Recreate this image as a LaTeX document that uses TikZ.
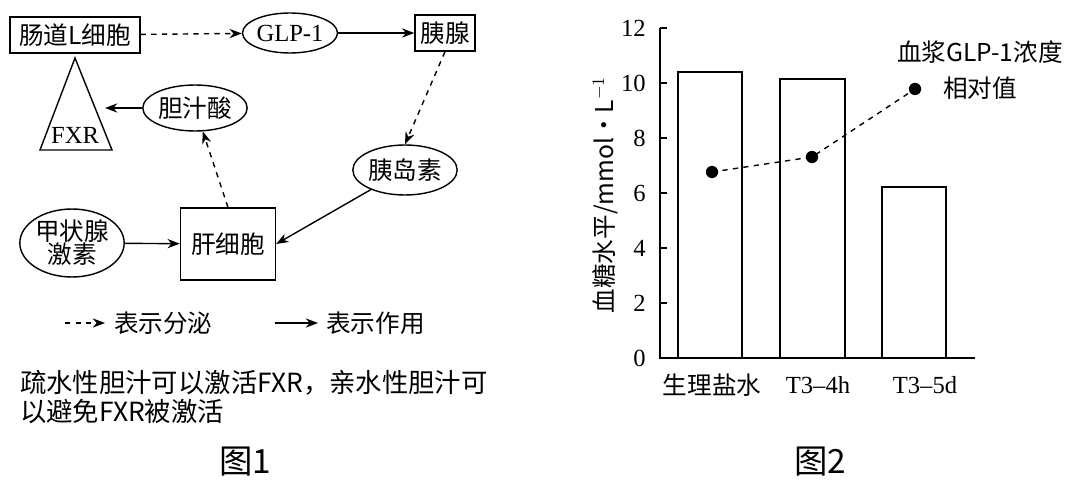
\documentclass[tikz,border=0pt]{standalone}
\usepackage{fontspec}
\setmainfont{Liberation Serif}
\newfontfamily\cjk{Noto Sans CJK SC}
\usetikzlibrary{shapes.geometric,arrows.meta}
\begin{document}
\begin{tikzpicture}[x=0.02cm,y=-0.02cm,font=\fontsize{14}{16}\selectfont,
 bx/.style={draw,thick,minimum height=0.72cm,inner sep=2pt},
 el/.style={draw,thick,ellipse,inner sep=0pt},
 sec/.style={-{Stealth[length=7pt]},thick,dashed},
 act/.style={-{Stealth[length=7pt]},thick}]
\useasboundingbox (0,0) rectangle (1080,483);
\node[bx,minimum width=2.6cm] (L) at (75,35) {\cjk 肠道L细胞};
\node[el,minimum width=1.9cm,minimum height=0.8cm] (G) at (290,33) {GLP-1};
\node[bx,minimum width=1.2cm] (Y) at (445,33) {\cjk 胰腺};
\draw[thick] (75,58) coordinate (T) -- (40,150) -- (112,150) -- cycle;
\node (F) at (75,135) {FXR};
\coordinate (Tr) at (105,108);
\node[el,minimum width=1.8cm,minimum height=0.92cm] (D) at (195,108) {\cjk 胆汁酸};
\node[el,minimum width=1.8cm,minimum height=1cm] (I) at (405,170) {\cjk 胰岛素};
\node[el,minimum width=1.9cm,minimum height=1.36cm,align=center] (J) at (72,243) {\cjk 甲状腺\\[-3pt]\cjk 激素};
\node[bx,minimum width=1.9cm,minimum height=1.44cm] (H) at (228,244) {\cjk 肝细胞};
\draw[sec] (L) -- (G);
\draw[act] (G) -- (Y);
\draw[sec] (Y.south) -- (I.north);
\draw[act] (I) -- (H.east);
\draw[sec] (H.north) -- (D);
\draw[act] (D) -- (Tr);
\draw[act] (J) -- (H);
\coordinate (a1) at (65,323); \coordinate (a2) at (105,323);
\draw[sec] (a1) -- (a2);
\node[anchor=west] (t1) at (108,323) {\cjk 表示分泌};
\coordinate (b1) at (275,323); \coordinate (b2) at (318,323);
\draw[act] (b1) -- (b2);
\node[anchor=west] (t2) at (320,323) {\cjk 表示作用};
\node[anchor=west,font=\fontsize{15}{17}\selectfont] (n1) at (14,383) {\cjk 疏水性胆汁可以激活FXR，亲水性胆汁可};
\node[anchor=west,font=\fontsize{15}{17}\selectfont] (n2) at (14,412) {\cjk 以避免FXR被激活};
\node[font=\fontsize{19}{21}\selectfont] (f1) at (245,462) {\cjk 图1};
% figure 2
\draw[thick] (975,358) -- (660,358) -- (660,28);
\foreach \v in {0,2,...,12}{
 \draw[thick] (660,358-\v*27.5) -- (667,358-\v*27.5);
 \node[anchor=east] at (652,358-\v*27.5) {\v};}
\draw[thick] (678,358) rectangle (742,72);
\draw[thick] (780,358) rectangle (845,79);
\draw[thick] (882,358) rectangle (946,187);
\node (x1) at (712,385) {\cjk 生理盐水};
\node (x2) at (818,385) {T3–4h};
\node (x3) at (925,385) {T3–5d};
\fill (712,172) circle (3.5pt) coordinate (p1);
\fill (812,157) circle (3.5pt) coordinate (p2);
\fill (915,89) circle (3.5pt) coordinate (p3);
\draw[thick,dashed] (p1) -- (p2) -- (p3);
\node (g1) at (980,52) {\cjk 血浆GLP-1浓度};
\node (g2) at (980,88) {\cjk 相对值};
\node[rotate=90] (yl) at (605,195) {\cjk 血糖水平/mmol·L$^{-1}$};
\node[font=\fontsize{19}{21}\selectfont] (f2) at (820,462) {\cjk 图2};
\end{tikzpicture}
\end{document}
